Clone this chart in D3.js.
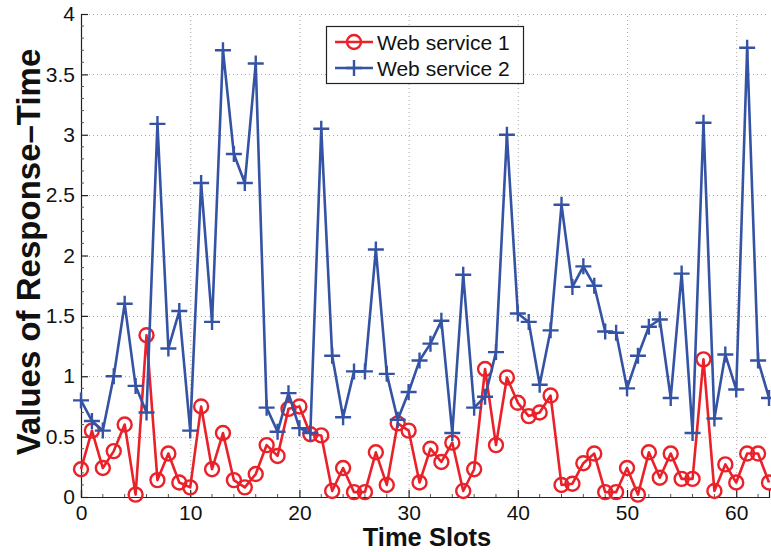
<!DOCTYPE html>
<html>
<head>
<meta charset="utf-8">
<script src="https://cdn.jsdelivr.net/npm/d3@7"></script>
<style>
  html, body { margin: 0; padding: 0; background: #fff; }
  svg { display: block; font-family: "Liberation Sans", Arial, Helvetica, sans-serif; }
</style>
</head>
<body>
<svg id="chart" width="771" height="552"></svg>
<script>
// Time slot indices 0..63
const timeSlots = d3.range(0, 64);

// Response time per slot, Web service 1
const service1 = [
  0.23, 0.55, 0.24, 0.38, 0.60, 0.02, 1.34, 0.14, 0.36, 0.12,
  0.08, 0.75, 0.23, 0.53, 0.14, 0.08, 0.19, 0.43, 0.34, 0.73,
  0.75, 0.52, 0.51, 0.05, 0.24, 0.04, 0.04, 0.37, 0.10, 0.61,
  0.55, 0.12, 0.40, 0.29, 0.45, 0.05, 0.23, 1.06, 0.43, 0.99,
  0.78, 0.67, 0.70, 0.84, 0.10, 0.11, 0.28, 0.36, 0.04, 0.04,
  0.24, 0.02, 0.37, 0.16, 0.36, 0.15, 0.15, 1.14, 0.05, 0.27,
  0.12, 0.36, 0.36, 0.12
];

// Response time per slot, Web service 2
const service2 = [
  0.80, 0.63, 0.55, 1.00, 1.60, 0.92, 0.70, 3.09, 1.23, 1.54,
  0.55, 2.60, 1.45, 3.70, 2.84, 2.60, 3.59, 0.74, 0.54, 0.86,
  0.57, 0.53, 3.05, 1.17, 0.66, 1.04, 1.04, 2.05, 1.02, 0.64,
  0.87, 1.13, 1.27, 1.46, 0.53, 1.84, 0.74, 0.83, 1.20, 3.00,
  1.52, 1.45, 0.93, 1.38, 2.42, 1.74, 1.91, 1.75, 1.37, 1.36,
  0.90, 1.17, 1.41, 1.47, 0.82, 1.85, 0.53, 3.10, 0.65, 1.18,
  0.89, 3.72, 1.13, 0.82
];

const seriesNames = ["Web service 1", "Web service 2"];
const xTicks = [0, 10, 20, 30, 40, 50, 60];
const yTicks = [0, 0.5, 1, 1.5, 2, 2.5, 3, 3.5, 4];
const xTitle = "Time Slots";
const yTitle = "Values of Response\u2013Time";

const red = "#ea2129";
const blue = "#3553a4";

const svg = d3.select("#chart");
const margin = { left: 81, top: 14, right: 2, bottom: 55 };
const W = 771, H = 552;
const x = d3.scaleLinear().domain([0, 63]).range([margin.left, W - margin.right]);
const y = d3.scaleLinear().domain([0, 4]).range([H - margin.bottom, margin.top]);

// dotted grid
const grid = svg.append("g").attr("stroke", "#a8a8a8").attr("stroke-width", 1)
  .attr("stroke-dasharray", "1,3");
grid.selectAll("line.gx").data(xTicks.filter(d => d > 0)).join("line")
  .attr("x1", d => x(d) + 0.5).attr("x2", d => x(d) + 0.5)
  .attr("y1", y(0)).attr("y2", y(4));
grid.selectAll("line.gy").data(yTicks.filter(d => d > 0)).join("line")
  .attr("x1", x(0)).attr("x2", x(63))
  .attr("y1", d => Math.round(y(d)) + 0.5).attr("y2", d => Math.round(y(d)) + 0.5);

// axes with inward ticks
const xAxis = d3.axisBottom(x).tickValues(xTicks).tickSize(-7).tickPadding(11).tickFormat(d3.format("d"));
const yAxis = d3.axisLeft(y).tickValues(yTicks).tickSize(-7).tickPadding(6).tickFormat(d => d3.format("")(d));

const gx = svg.append("g").attr("transform", `translate(0,${y(0)})`).call(xAxis);
const gy = svg.append("g").attr("transform", `translate(${x(0)},0)`).call(yAxis);
[gx, gy].forEach(g => {
  g.select(".domain").attr("stroke", "#222").attr("stroke-width", 1.2);
  g.selectAll(".tick line").attr("stroke", "#222").attr("stroke-width", 1.2);
  g.selectAll(".tick text").attr("fill", "#111").attr("font-size", 21)
    .attr("font-family", "'Liberation Sans', Arial, Helvetica, sans-serif");
});
gx.selectAll(".tick text").attr("dy", "0.55em");

// minor ticks along both axes
const minor = svg.append("g").attr("stroke", "#555").attr("stroke-width", 1);
minor.selectAll("line.mx").data(d3.range(0, 64, 2).filter(d => d % 10 !== 0)).join("line")
  .attr("x1", d => x(d)).attr("x2", d => x(d)).attr("y1", y(0)).attr("y2", y(0) - 3);
minor.selectAll("line.my").data(d3.range(1, 40).filter(d => d % 5 !== 0).map(d => d / 10)).join("line")
  .attr("x1", x(0)).attr("x2", x(0) + 3).attr("y1", d => y(d)).attr("y2", d => y(d));

// axis titles
svg.append("text").attr("x", (x(0) + x(63)) / 2 + 2).attr("y", 546)
  .attr("text-anchor", "middle").attr("font-size", 25.5).attr("font-weight", "bold")
  .attr("fill", "#111").text(xTitle);
svg.append("text").attr("transform", `translate(40,${252}) rotate(-90)`)
  .attr("text-anchor", "middle").attr("font-size", 33).attr("font-weight", "bold")
  .attr("fill", "#111").text(yTitle);

const line = d3.line().x((d, i) => x(timeSlots[i])).y(d => y(d));

// Web service 1: red line with open circles
const g1 = svg.append("g");
g1.append("path").datum(service1).attr("d", line).attr("fill", "none")
  .attr("stroke", red).attr("stroke-width", 2.6).attr("stroke-linejoin", "round");
g1.selectAll("circle").data(service1).join("circle")
  .attr("cx", (d, i) => x(timeSlots[i])).attr("cy", d => y(d)).attr("r", 7)
  .attr("fill", "none").attr("stroke", red).attr("stroke-width", 2.4);

// Web service 2: blue line with plus markers
const plus = (cx, cy, s) => `M${cx - s},${cy}H${cx + s}M${cx},${cy - s}V${cy + s}`;
const g2 = svg.append("g");
g2.append("path").datum(service2).attr("d", line).attr("fill", "none")
  .attr("stroke", blue).attr("stroke-width", 2.6).attr("stroke-linejoin", "round");
g2.selectAll("path.m").data(service2).join("path").attr("class", "m")
  .attr("d", (d, i) => plus(x(timeSlots[i]), y(d), 8))
  .attr("stroke", blue).attr("stroke-width", 2.4);

// legend
const lg = svg.append("g");
lg.append("rect").attr("x", 326.5).attr("y", 26.5).attr("width", 197).attr("height", 57)
  .attr("fill", "#fff").attr("stroke", "#222").attr("stroke-width", 1.2);
const rows = [
  { name: seriesNames[0], color: red, yy: 42, marker: "circle" },
  { name: seriesNames[1], color: blue, yy: 68, marker: "plus" }
];
rows.forEach(r => {
  lg.append("line").attr("x1", 335).attr("x2", 373).attr("y1", r.yy).attr("y2", r.yy)
    .attr("stroke", r.color).attr("stroke-width", 2.6);
  if (r.marker === "circle") {
    lg.append("circle").attr("cx", 354).attr("cy", r.yy).attr("r", 7)
      .attr("fill", "none").attr("stroke", r.color).attr("stroke-width", 2.4);
  } else {
    lg.append("path").attr("d", plus(354, r.yy, 8)).attr("stroke", r.color).attr("stroke-width", 2.4);
  }
  lg.append("text").attr("x", 377).attr("y", r.yy + 7.5).attr("font-size", 21)
    .attr("fill", "#111").text(r.name);
});
</script>
</body>
</html>
